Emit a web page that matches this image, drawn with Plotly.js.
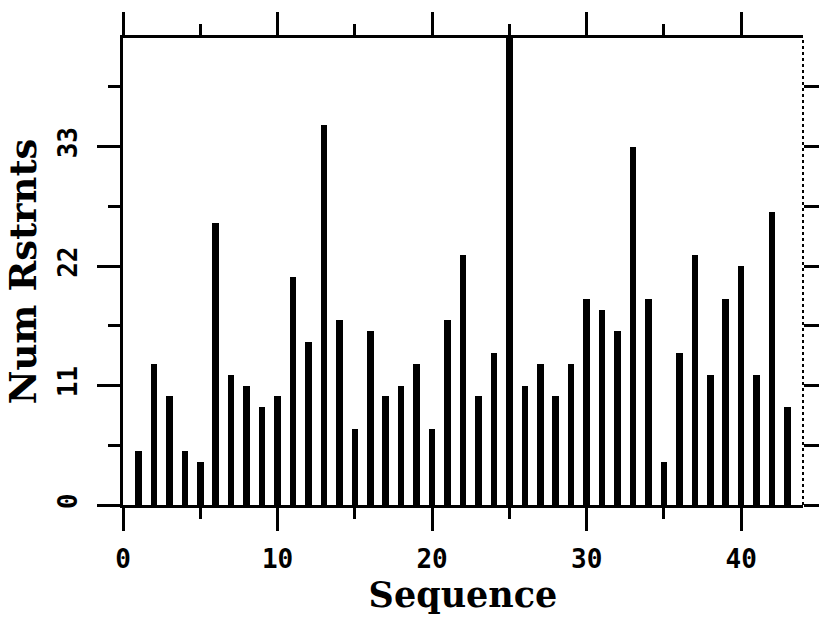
<!DOCTYPE html>
<html>
<head>
<meta charset="utf-8">
<script src="https://cdn.plot.ly/plotly-3.0.1.min.js"></script>
<style>html,body{margin:0;padding:0;background:#fff;}#chart{width:820px;height:620px;}</style>
</head>
<body>
<div id="chart"></div>
<script>
const sequence = [1,2,3,4,5,6,7,8,9,10,11,12,13,14,15,16,17,18,19,20,21,22,23,24,25,26,27,28,29,30,31,32,33,34,35,36,37,38,39,40,41,42,43];
const numRestraints = [5,13,10,5,4,26,12,11,9,10,21,15,35,17,7,16,10,11,13,7,17,23,10,14,43,11,13,10,13,19,18,16,33,19,4,14,23,12,19,22,12,27,9];
const yTickVals = [0,11,22,33];
const yTickText = ['0','11','22','33'];
const xTickVals = [0,10,20,30,40];
const xTickText = ['0','10','20','30','40'];

const tickFont = {family: 'DejaVu Sans Mono', size: 26, weight: 'bold', color: '#000'};
const xTitleFont = {family: 'DejaVu Serif', size: 35, weight: 'bold', color: '#000'};
const yTitleFont = {family: 'DejaVu Serif', size: 37, weight: 'bold', color: '#000'};

const traces = [{
  type: 'bar',
  x: sequence,
  y: numRestraints,
  width: 0.42,
  marker: {color: '#000', line: {width: 0}},
  hoverinfo: 'skip'
}, {
  type: 'scatter',
  mode: 'markers',
  x: sequence,
  y: numRestraints,
  yaxis: 'y2',
  marker: {opacity: 0, size: 1},
  hoverinfo: 'skip'
}];

const layout = {
  width: 820, height: 620,
  margin: {l: 123, r: 17, t: 38, b: 115},
  paper_bgcolor: '#fff', plot_bgcolor: '#fff',
  showlegend: false,
  bargap: 0,
  xaxis: {
    range: [0, 44],
    tickmode: 'array', tickvals: xTickVals, ticktext: xTickText,
    ticks: 'outside', ticklen: 23, tickwidth: 3, tickcolor: '#000',
    showline: true, linewidth: 3, linecolor: '#000', mirror: 'ticks',
    minor: {tickmode: 'linear', tick0: 0, dtick: 5, ticks: 'outside', ticklen: 11, tickwidth: 3, tickcolor: '#000', showgrid: false},
    showgrid: false, zeroline: false,
    tickfont: tickFont, ticklabelstandoff: 6,
    title: {text: 'Sequence', font: xTitleFont, standoff: 0}
  },
  yaxis: {
    range: [0, 43],
    tickmode: 'array', tickvals: yTickVals, ticktext: yTickText,
    tickangle: -90,
    ticks: 'outside', ticklen: 23, tickwidth: 3, tickcolor: '#000',
    showline: true, linewidth: 3, linecolor: '#000', mirror: false,
    minor: {tickmode: 'linear', tick0: 0, dtick: 5.5, ticks: 'outside', ticklen: 12, tickwidth: 3, tickcolor: '#000', showgrid: false},
    showgrid: false, zeroline: false,
    tickfont: tickFont, ticklabelstandoff: 10,
    title: {text: 'Num Rstrnts', font: yTitleFont, standoff: 5}
  },
  yaxis2: {
    overlaying: 'y', side: 'right',
    range: [0, 43],
    tickmode: 'linear', tick0: 5.5, dtick: 5.5,
    ticks: 'outside', ticklen: 15, tickwidth: 3, tickcolor: '#000',
    showticklabels: false, showline: false, showgrid: false, zeroline: false
  },
  shapes: [{
    type: 'line', xref: 'paper', yref: 'paper',
    x0: 1, x1: 1, y0: 0, y1: 1,
    line: {color: '#000', width: 2, dash: 'dot'}
  }]
};

Plotly.newPlot('chart', traces, layout, {staticPlot: true, displayModeBar: false});
</script>
</body>
</html>
